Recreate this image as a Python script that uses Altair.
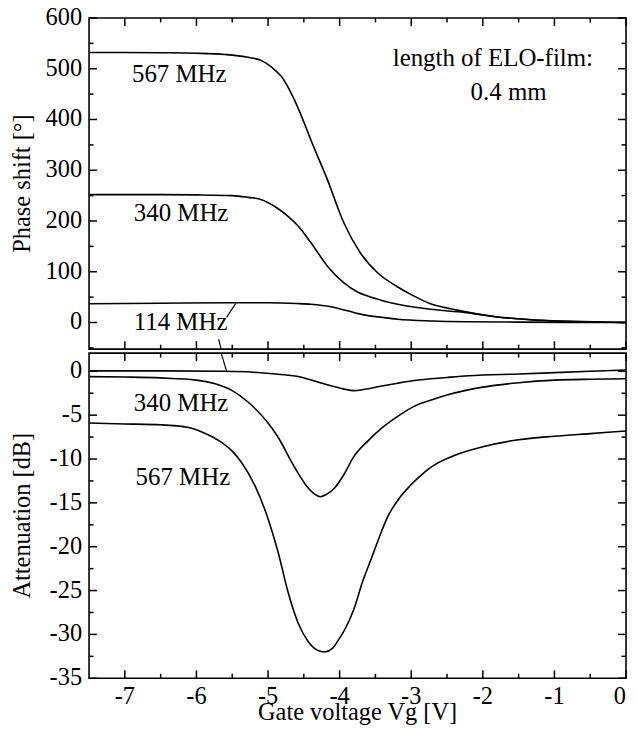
import altair as alt
import pandas as pd

# ---------------- data ----------------
# Phase shift [deg] vs gate voltage
vg_567_phase = [-7.5, -7.0, -6.5, -6.0, -5.6, -5.3, -5.09, -4.95, -4.81, -4.63, -4.5, -4.4,
                -4.17, -3.94, -3.71, -3.47, -3.2, -3.0, -2.73, -2.45, -2.2, -1.8, -1.35, -0.9, -0.45, 0.0]
phase_567 = [532, 532, 531.5, 530.5, 528, 523, 516, 503, 484, 438, 395, 359,
             281, 196, 137, 98, 71, 55, 37, 27, 20, 11, 5.5, 2.5, 1, 0]

vg_340_phase = [-7.5, -7.0, -6.5, -6.0, -5.5, -5.3, -5.09, -4.9, -4.72, -4.58, -4.4, -4.17,
                -3.94, -3.75, -3.61, -3.4, -3.19, -2.73, -2.26, -1.8, -1.35, -0.9, -0.45, 0.0]
phase_340 = [252, 252, 252, 251.5, 250, 247, 242, 228, 209, 190, 157, 111,
             78, 60, 52, 43, 36, 26, 20, 11, 6, 3, 1.2, 0]

vg_114_phase = [-7.5, -6.5, -5.5, -5.0, -4.6, -4.4, -4.12, -3.89, -3.66, -3.4, -3.19, -2.7,
                -2.2, -1.5, -0.8, 0.0]
phase_114 = [37, 38, 39, 39, 37.5, 36, 31, 23, 15, 10, 6.5, 3, 1.5, 0.8, 0.3, 0]

# Attenuation [dB] vs gate voltage
vg_567_att = [-7.5, -7.0, -6.5, -6.11, -5.9, -5.65, -5.5, -5.37, -5.18, -5.0, -4.86, -4.72,
              -4.58, -4.44, -4.31, -4.21, -4.1, -4.03, -3.9, -3.8, -3.68, -3.56, -3.45, -3.33,
              -3.17, -3.01, -2.8, -2.64, -2.4, -2.0, -1.5, -1.0, -0.5, 0.0]
att_567 = [-5.9, -6.0, -6.1, -6.4, -7.0, -8.1, -9.1, -10.4, -13.1, -16.8, -20.6, -25.2,
           -28.7, -30.8, -31.8, -32.0, -31.6, -30.8, -29.0, -27.1, -24.0, -21.4, -19.0, -16.6,
           -14.5, -13.0, -11.4, -10.5, -9.6, -8.6, -7.8, -7.4, -7.1, -6.8]

vg_340_att = [-7.5, -7.0, -6.5, -6.0, -5.75, -5.5, -5.28, -5.0, -4.81, -4.72, -4.58, -4.44,
              -4.35, -4.27, -4.18, -4.07, -3.95, -3.8, -3.6, -3.43, -3.2, -2.96, -2.73, -2.5, -2.0,
              -1.5, -1.0, -0.5, 0.0]
att_340 = [-0.6, -0.65, -0.75, -1.0, -1.4, -2.2, -3.5, -5.9, -8.2, -9.6, -11.6, -13.3,
           -14.0, -14.3, -14.0, -13.3, -11.9, -9.7, -7.9, -6.6, -5.2, -4.0, -3.3, -2.7, -1.8,
           -1.3, -1.0, -0.9, -0.85]

vg_114_att = [-7.5, -6.5, -5.6, -5.2, -4.9, -4.58, -4.35, -4.12, -3.95, -3.8, -3.65, -3.43,
              -3.19, -2.96, -2.5, -2.2, -1.5, -1.0, -0.5, 0.0]
att_114 = [0.05, 0.05, 0.0, -0.1, -0.3, -0.6, -1.1, -1.65, -2.0, -2.2, -2.05, -1.7,
           -1.35, -1.05, -0.7, -0.5, -0.3, -0.15, 0.0, 0.15]

# annotations
top_labels = ["567 MHz", "340 MHz", "114 MHz"]
top_label_vg = [-6.9, -6.875, -6.875]
top_label_val = [490, 216, 0]

note_lines = ["length of ELO-film:", "0.4 mm"]
note_vg = [-1.86, -1.64]
note_val = [521, 455]

bot_labels = ["340 MHz", "567 MHz"]
bot_label_vg = [-6.875, -6.85]
bot_label_val = [-3.6, -12.1]

# leader lines of the "114 MHz" label (start / end)
lead_top_vg = [-5.58, -5.69]
lead_top_val = [10, -33]
lead_top_vg2 = [-5.45, -5.655]
lead_top_val2 = [38, -52.4]
lead_bot_vg = [-5.655]
lead_bot_val = [2.08]
lead_bot_vg2 = [-5.58]
lead_bot_val2 = [0.05]

# axis tick values and titles
x_major = [-7, -6, -5, -4, -3, -2, -1, 0]
x_minor = [-6.5, -5.5, -4.5, -3.5, -2.5, -1.5, -0.5]
top_major = [0, 100, 200, 300, 400, 500, 600]
top_minor = [-50, 50, 150, 250, 350, 450, 550]
bot_major = [-35, -30, -25, -20, -15, -10, -5, 0]
bot_minor = [-32.5, -27.5, -22.5, -17.5, -12.5, -7.5, -2.5]
x_title = "Gate voltage Vg [V]"
top_title = "Phase shift [°]"
bot_title = "Attenuation [dB]"

# ---------------- layout ----------------
FONT = "Liberation Serif"
FS = 24.5
W, H_TOP, H_BOT = 540, 333, 327
X_DOMAIN = [-7.5, 0]
TOP_DOMAIN = [-52.4, 600]
BOT_DOMAIN = [-35, 2.08]
MAJ, MIN = 8, 4.5        # inward tick lengths (px)
LABEL_GAP = 7            # gap between frame and tick labels (px)
TITLE_X = -66            # centre of the rotated y titles (px from frame)
XTITLE_Y = 23            # top of the x title below the frame (px)


def series_df(items):
    rows = []
    for name, xs, ys in items:
        rows += [{"series": name, "vg": a, "val": b} for a, b in zip(xs, ys)]
    return pd.DataFrame(rows)


def panel(df, ydomain, H, ytitle, ymaj, ymin, left_texts, center_texts, rules, xlabels):
    xs = alt.Scale(domain=X_DOMAIN, nice=False, zero=False)
    ys = alt.Scale(domain=ydomain, nice=False, zero=False)

    def X(field):
        return alt.X(field, scale=xs, axis=None)

    def Y(field):
        return alt.Y(field, scale=ys, axis=None)

    layers = [alt.Chart(df).mark_line(color="black", strokeWidth=1.6,
                                      interpolate="monotone").encode(
        x=X("vg:Q"), y=Y("val:Q"), detail="series:N")]

    # inward frame ticks on all four sides
    for vals, L in ((x_major, MAJ), (x_minor, MIN)):
        base = alt.Chart(pd.DataFrame({"t": vals})).mark_rule(color="black", strokeWidth=1.5)
        layers.append(base.encode(x=X("t:Q"), y=alt.value(0), y2=alt.value(L)))
        layers.append(base.encode(x=X("t:Q"), y=alt.value(H), y2=alt.value(H - L)))
    for vals, L in ((ymaj, MAJ), (ymin, MIN)):
        base = alt.Chart(pd.DataFrame({"t": vals})).mark_rule(color="black", strokeWidth=1.5)
        layers.append(base.encode(y=Y("t:Q"), x=alt.value(0), x2=alt.value(L)))
        layers.append(base.encode(y=Y("t:Q"), x=alt.value(W), x2=alt.value(W - L)))

    # y tick labels and title
    ylab = pd.DataFrame({"t": ymaj, "label": [str(v) for v in ymaj]})
    layers.append(alt.Chart(ylab).mark_text(font=FONT, fontSize=FS, color="black",
                                            align="right", baseline="middle").encode(
        y=Y("t:Q"), x=alt.value(-LABEL_GAP), text="label:N"))
    layers.append(alt.Chart(pd.DataFrame({"label": [ytitle]})).mark_text(
        font=FONT, fontSize=FS, color="black", align="center", baseline="middle",
        angle=270).encode(x=alt.value(TITLE_X), y=alt.value(H / 2), text="label:N"))

    # x tick labels and title (bottom panel only)
    if xlabels:
        inner = [v for v in x_major if v != X_DOMAIN[1]]
        last = [v for v in x_major if v == X_DOMAIN[1]]
        xl1 = pd.DataFrame({"t": inner, "label": [str(v) for v in inner]})
        xl2 = pd.DataFrame({"t": last, "label": [str(v) for v in last]})
        layers.append(alt.Chart(xl1).mark_text(font=FONT, fontSize=FS, color="black",
                                               align="center", baseline="top").encode(
            x=X("t:Q"), y=alt.value(H + LABEL_GAP), text="label:N"))
        layers.append(alt.Chart(xl2).mark_text(font=FONT, fontSize=FS, color="black",
                                               align="right", baseline="top").encode(
            x=X("t:Q"), y=alt.value(H + LABEL_GAP), text="label:N"))
        layers.append(alt.Chart(pd.DataFrame({"label": [x_title]})).mark_text(
            font=FONT, fontSize=FS, color="black", align="center", baseline="top").encode(
            x=alt.value(W / 2), y=alt.value(H + XTITLE_Y), text="label:N"))

    # annotations
    layers.append(alt.Chart(left_texts).mark_text(font=FONT, fontSize=25, color="black",
                                                  align="left", baseline="middle").encode(
        x=X("vg:Q"), y=Y("val:Q"), text="label:N"))
    if center_texts is not None:
        layers.append(alt.Chart(center_texts).mark_text(font=FONT, fontSize=25, color="black",
                                                        align="center", baseline="middle").encode(
            x=X("vg:Q"), y=Y("val:Q"), text="label:N"))
    layers.append(alt.Chart(rules).mark_rule(color="black", strokeWidth=1.2).encode(
        x=X("vg:Q"), x2="vg2:Q", y=Y("val:Q"), y2="val2:Q"))
    return alt.layer(*layers).properties(width=W, height=H)


top_df = series_df([("567", vg_567_phase, phase_567),
                    ("340", vg_340_phase, phase_340),
                    ("114", vg_114_phase, phase_114)])
bot_df = series_df([("567", vg_567_att, att_567),
                    ("340", vg_340_att, att_340),
                    ("114", vg_114_att, att_114)])

top_texts = pd.DataFrame({"label": top_labels, "vg": top_label_vg, "val": top_label_val})
note_texts = pd.DataFrame({"label": note_lines, "vg": note_vg, "val": note_val})
bot_texts = pd.DataFrame({"label": bot_labels, "vg": bot_label_vg, "val": bot_label_val})
top_rules = pd.DataFrame({"vg": lead_top_vg, "val": lead_top_val,
                          "vg2": lead_top_vg2, "val2": lead_top_val2})
bot_rules = pd.DataFrame({"vg": lead_bot_vg, "val": lead_bot_val,
                          "vg2": lead_bot_vg2, "val2": lead_bot_val2})

top = panel(top_df, TOP_DOMAIN, H_TOP, top_title, top_major, top_minor,
            top_texts, note_texts, top_rules, False)
bot = panel(bot_df, BOT_DOMAIN, H_BOT, bot_title, bot_major, bot_minor,
            bot_texts, None, bot_rules, True)

chart = alt.vconcat(top, bot, spacing=0).properties(
    padding={"left": 1.5, "top": -6, "right": 0, "bottom": 0}
).configure_view(stroke="black", strokeWidth=1.6)

chart.save("out.html", embed_options={"renderer": "svg", "actions": False})
